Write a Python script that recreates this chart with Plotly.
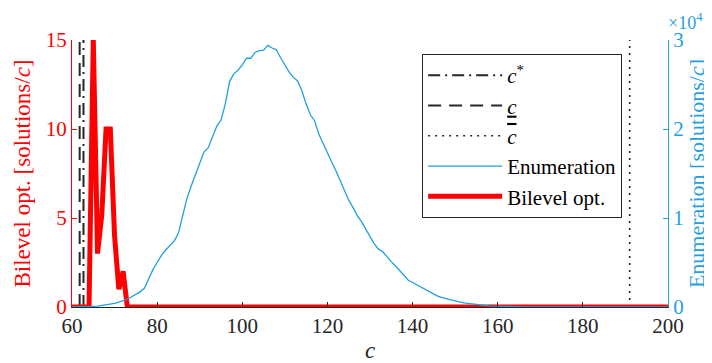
import plotly.graph_objects as go

# ---------------- data ----------------
c_values = list(range(60, 201))

enumeration = [
    0, 0, 0, 20, 50, 80, 100, 170, 250, 320,          # 60-69
    400, 550, 700, 900, 1150, 1400, 1700, 2100, 3100, 4200,  # 70-79
    5000, 5800, 6400, 6900, 7400, 8300, 10300, 12200, 13600, 14800,  # 80-89
    16200, 17400, 17900, 19200, 20300, 21000, 22800, 25300, 26200, 26600,  # 90-99
    27200, 27950, 27950, 28600, 28800, 28850, 29400, 29100, 28900, 28000,  # 100-109
    27200, 26400, 25800, 25400, 24300, 22800, 21600, 20900, 19400, 18300,  # 110-119
    17300, 16300, 15300, 14200, 12900, 12000, 11200, 10300, 9600, 8700,  # 120-129
    7900, 7100, 6500, 6200, 5600, 5100, 4600, 4100, 3500, 3000,  # 130-139
    2750, 2500, 2200, 2000, 1700, 1450, 1200, 1050, 900, 800,  # 140-149
    700, 560, 470, 400, 330, 270, 220, 170, 130, 100,  # 150-159
    80, 60, 45, 35, 25, 20, 15, 12, 10, 8,  # 160-169
    6, 5, 4, 3, 2, 2, 1, 1, 1, 0,  # 170-179
    0, 0, 0, 0, 0, 0, 0, 0, 0, 0,  # 180-189
    0, 0, 0, 0, 0, 0, 0, 0, 0, 0,  # 190-199
    0,  # 200
]

bilevel = [
    0, 0, 0, 0, 0, 15, 3, 5.2, 10, 10,  # 60-69
    4, 1, 2, 0, 0, 0, 0, 0, 0, 0,  # 70-79
] + [0] * (201 - 80)

c_star = 62.7
c_lower = 61.8
c_upper = 191

left_ticks = [0, 5, 10, 15]
right_ticks = [0, 10000, 20000, 30000]
right_tick_labels = ["0", "1", "2", "3"]
x_ticks = [60, 80, 100, 120, 140, 160, 180, 200]

# ---------------- style ----------------
RED = "#FF0000"
BLUE = "#1FA0E0"
DARK = "#262626"
FONT = "Liberation Serif"

fig = go.Figure()

fig.add_trace(go.Scatter(
    x=[c_star, c_star], y=[0, 15], mode="lines", yaxis="y",
    name="<i>c</i><sup>*</sup>", legendrank=1,
    line=dict(color=DARK, width=2, dash="12px,5px,2px,5px"),
))
fig.add_trace(go.Scatter(
    x=[c_lower, c_lower], y=[0, 15], mode="lines", yaxis="y",
    name="<u><i>c</i></u>", legendrank=2,
    line=dict(color=DARK, width=2, dash="13px,8px"),
))
fig.add_trace(go.Scatter(
    x=[c_upper, c_upper], y=[0, 15], mode="lines", yaxis="y",
    name="<span style='text-decoration:overline'><i>c</i></span>", legendrank=3,
    line=dict(color=DARK, width=1.6, dash="2px,5px"),
))
fig.add_trace(go.Scatter(
    x=c_values, y=bilevel, mode="lines", yaxis="y",
    name="Bilevel opt.", legendrank=5,
    line=dict(color=RED, width=5),
))
fig.add_trace(go.Scatter(
    x=c_values, y=enumeration, mode="lines", yaxis="y2",
    name="Enumeration", legendrank=4,
    line=dict(color=BLUE, width=1.3),
))

# page body has an 8px margin, so the figure is sized to fit the window
fig.update_layout(
    width=704, height=355,
    margin=dict(l=64, r=44, t=32, b=56),
    paper_bgcolor="white", plot_bgcolor="white",
    font=dict(family=FONT, size=21, color=DARK),
    showlegend=True,
    legend=dict(
        x=0.5875, y=0.9476, xanchor="left", yanchor="top",
        bgcolor="white", bordercolor=DARK, borderwidth=1,
        font=dict(family=FONT, size=21, color="black"),
        itemwidth=74, traceorder="normal",
    ),
    xaxis=dict(
        range=[60, 200], tickvals=x_ticks, showgrid=False, zeroline=False,
        showline=True, linecolor=DARK, linewidth=1, automargin=False,
        ticks="inside", ticklen=5, tickcolor=DARK,
        tickfont=dict(size=21, color=DARK),
        title=dict(text="<i>c</i>", font=dict(size=23, color=DARK), standoff=4),
    ),
    yaxis=dict(
        range=[0, 15], tickvals=left_ticks, showgrid=False, zeroline=False,
        showline=True, linecolor=RED, linewidth=1, automargin=False,
        ticks="inside", ticklen=5, tickcolor=RED,
        tickfont=dict(size=21, color=RED),
        title=dict(text="Bilevel opt. [solutions/<i>c</i>]",
                   font=dict(size=23, color=RED), standoff=8),
    ),
    yaxis2=dict(
        range=[0, 30000], tickvals=right_ticks, ticktext=right_tick_labels,
        overlaying="y", side="right", showgrid=False, zeroline=False,
        showline=True, linecolor=BLUE, linewidth=1, automargin=False,
        ticks="inside", ticklen=5, tickcolor=BLUE,
        tickfont=dict(size=21, color=BLUE),
        title=dict(text="Enumeration [solutions/<i>c</i>]",
                   font=dict(size=22, color=BLUE), standoff=3),
    ),
    annotations=[dict(
        text="×10<sup>4</sup>", xref="paper", yref="paper",
        x=1.0, y=1.0, xanchor="left", yanchor="bottom", xshift=-2, yshift=5,
        showarrow=False, font=dict(family=FONT, size=18, color=BLUE),
    )],
)

fig.write_html("out.html")
